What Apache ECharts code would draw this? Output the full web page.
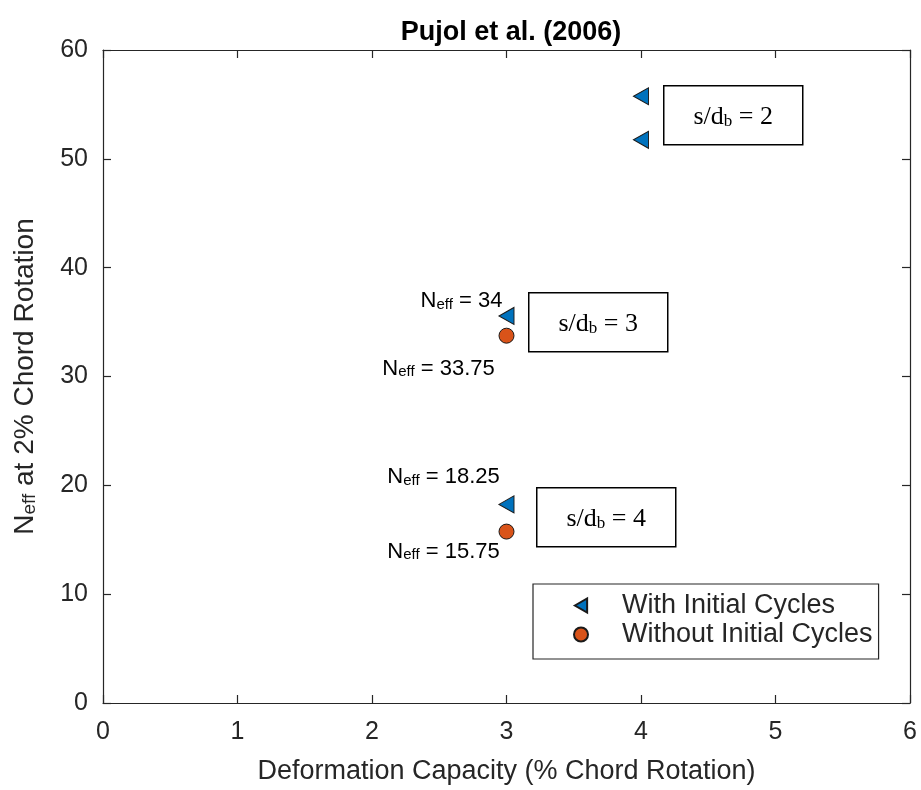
<!DOCTYPE html>
<html>
<head>
<meta charset="utf-8">
<script src="https://cdn.jsdelivr.net/npm/echarts@6/dist/echarts.min.js"></script>
<style>
  html, body { margin: 0; padding: 0; background: #fff; }
  #chart { width: 921px; height: 790px; }
</style>
</head>
<body>
<div id="chart"></div>
<script>
// Effective number of cycles vs deformation capacity, Pujol et al. (2006)
const xTicks = [0, 1, 2, 3, 4, 5, 6];
const yTicks = [0, 10, 20, 30, 40, 50, 60];

// With initial cycles (triangles)
const withX = [4, 4, 3, 3];
const withY = [55.75, 51.75, 34, 18.25];
// Without initial cycles (circles)
const withoutX = [3, 3];
const withoutY = [33.75, 15.75];

const seriesNames = ['With Initial Cycles', 'Without Initial Cycles'];
const ratioLabels = ['2', '3', '4'];

const AX = '#262626';
const SANS = 'Arial, "Liberation Sans", Helvetica, sans-serif';
const SERIF = '"Times New Roman", "Liberation Serif", serif';
const TRI = 'path://M0,8 L14,0 L14,16 Z';

const neffRich = {
  n: { fontSize: 22, fontFamily: SANS, color: '#000', verticalAlign: 'bottom', lineHeight: 24 },
  s: { fontSize: 15, fontFamily: SANS, color: '#000', verticalAlign: 'bottom', lineHeight: 19 }
};
function neffLabel(v, offset) {
  return {
    show: true, position: 'inside', offset: offset,
    formatter: '{n|N}{s|eff}{n| = ' + v + '}', rich: neffRich
  };
}

// per-point annotation offsets
const withLabels = [null, null, [-45, -16], [-63, -28]];
const withoutLabels = [[-68, 32], [-63, 19]];

const withData = withX.map((x, i) => {
  const d = { value: [x, withY[i]] };
  if (withLabels[i]) d.label = neffLabel(withY[i], withLabels[i]);
  // lift the marker a little so it does not sit on top of the circle at 33.75
  if (i === 2) d.symbolOffset = [0, -17];
  return d;
});
const withoutData = withoutX.map((x, i) => ({
  value: [x, withoutY[i]],
  label: neffLabel(withoutY[i], withoutLabels[i])
}));

function ratioBox(left, top, txt) {
  return {
    type: 'group', left: left, top: top,
    children: [
      { type: 'rect', shape: { x: 0, y: 0, width: 139, height: 59 },
        style: { fill: '#fff', stroke: '#000', lineWidth: 1.5 } },
      { type: 'text', x: 69.5, y: 30,
        style: {
          text: '{a|s/d}{b|b}{a| = ' + txt + '}',
          align: 'center', verticalAlign: 'middle',
          rich: {
            a: { fontSize: 26, fontFamily: SERIF, fill: '#000', verticalAlign: 'bottom', lineHeight: 28 },
            b: { fontSize: 17, fontFamily: SERIF, fill: '#000', verticalAlign: 'bottom', lineHeight: 22 }
          }
        } }
    ]
  };
}

const axisCommon = {
  type: 'value',
  splitLine: { show: false },
  axisLine: { show: true, onZero: false, lineStyle: { color: AX, width: 1.2 } },
  axisTick: { show: true, inside: true, length: 8, lineStyle: { color: AX, width: 1.2 } }
};

const option = {
  backgroundColor: '#fff',
  animation: false,
  title: {
    text: 'Pujol et al. (2006)', left: 506, top: 14, textAlign: 'center',
    textStyle: { fontFamily: SANS, fontSize: 27, fontWeight: 'bold', color: '#000' }
  },
  grid: { left: 103, right: 11, top: 50, bottom: 83 },
  legend: {
    orient: 'vertical', left: 533, top: 584,
    padding: [8, 6, 11, 40], itemGap: 2,
    itemWidth: 14, itemHeight: 14,
    backgroundColor: '#fff', borderColor: '#262626', borderWidth: 1.2, borderRadius: 0,
    textStyle: { fontFamily: SANS, fontSize: 27, color: AX, padding: [0, 0, 0, 29] },
    data: [
      { name: seriesNames[0], icon: TRI },
      { name: seriesNames[1], icon: 'circle' }
    ]
  },
  xAxis: [
    Object.assign({}, axisCommon, {
      min: xTicks[0], max: xTicks[xTicks.length - 1], interval: 1,
      name: 'Deformation Capacity (% Chord Rotation)', nameLocation: 'middle', nameGap: 55,
      nameTextStyle: { fontFamily: SANS, fontSize: 27, color: AX },
      axisLabel: { fontFamily: SANS, fontSize: 25, color: AX, margin: 17 }
    }),
    Object.assign({}, axisCommon, {
      position: 'top', min: xTicks[0], max: xTicks[xTicks.length - 1], interval: 1,
      axisLabel: { show: false }
    })
  ],
  yAxis: [
    Object.assign({}, axisCommon, {
      min: yTicks[0], max: yTicks[yTicks.length - 1], interval: 10,
      name: '{n|N}{s|eff}{n| at 2% Chord Rotation}', nameLocation: 'middle', nameGap: 64, nameRotate: 90,
      nameTextStyle: {
        rich: {
          n: { fontFamily: SANS, fontSize: 28, color: AX, verticalAlign: 'bottom', lineHeight: 31 },
          s: { fontFamily: SANS, fontSize: 19, color: AX, verticalAlign: 'bottom', lineHeight: 19 }
        }
      },
      axisLabel: { fontFamily: SANS, fontSize: 25, color: AX, margin: 15 }
    }),
    Object.assign({}, axisCommon, {
      position: 'right', min: yTicks[0], max: yTicks[yTicks.length - 1], interval: 10,
      axisLabel: { show: false }
    })
  ],
  series: [
    {
      name: seriesNames[0], type: 'scatter', symbol: TRI, symbolSize: [15, 17],
      itemStyle: { color: '#0072BD', borderColor: '#1a1a1a', borderWidth: 1, opacity: 1 },
      data: withData, z: 3
    },
    {
      name: seriesNames[1], type: 'scatter', symbol: 'circle', symbolSize: 15,
      itemStyle: { color: '#D95319', borderColor: '#1a1a1a', borderWidth: 1, opacity: 1 },
      data: withoutData, z: 3
    }
  ],
  graphic: [
    ratioBox(663, 85, ratioLabels[0]),
    ratioBox(528, 292, ratioLabels[1]),
    ratioBox(536, 487, ratioLabels[2])
  ]
};

echarts.init(document.getElementById('chart'), null, { renderer: 'canvas' }).setOption(option);
</script>
</body>
</html>
